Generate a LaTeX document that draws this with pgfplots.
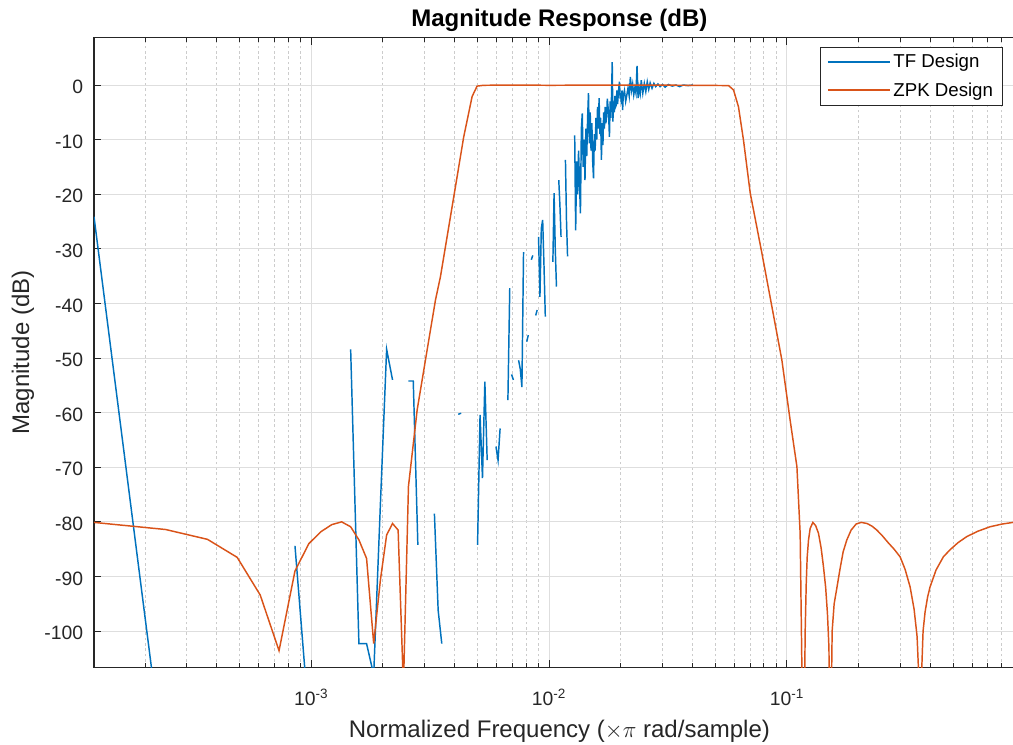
\documentclass[border=0pt]{standalone}
\usepackage{fontspec}
\setmainfont{Liberation Sans}
\usepackage{pgfplots}
\pgfplotsset{compat=1.18}
\definecolor{mblue}{rgb}{0,0.447,0.741}
\definecolor{morange}{rgb}{0.85,0.325,0.098}
\definecolor{axgray}{rgb}{0.15,0.15,0.15}
\definecolor{gridgray}{rgb}{0.87,0.87,0.87}
\definecolor{mgridgray}{rgb}{0.80,0.80,0.80}

\pgfplotstableread{
f dB
1.2207e-4 -24.1
2.4414e-4 -127
nan nan
8.5449e-4 -84.4
9.7656e-4 -116
nan nan
1.46484e-3 -48.4
1.58691e-3 -102.3
1.70898e-3 -102.3
1.83105e-3 -108
1.95313e-3 -77
2.07520e-3 -48.4
2.19727e-3 -54
nan nan
2.56348e-3 -54.2
2.68555e-3 -54.2
2.80762e-3 -84.2
nan nan
3.29590e-3 -78.5
3.41797e-3 -96.2
3.54004e-3 -102.3
nan nan
4.15039e-3 -60.3
4.27246e-3 -60.1
nan nan
5.00488e-3 -84.2
5.12695e-3 -60.4
5.24902e-3 -72.0
5.37109e-3 -54.3
5.49316e-3 -68.7
nan nan
5.98145e-3 -66.2
6.10352e-3 -68.7
6.22559e-3 -62.9
nan nan
6.71387e-3 -57.7
6.83594e-3 -37.2
nan nan
6.95801e-3 -53.0
7.08008e-3 -54.0
nan nan
7.44629e-3 -50.4
7.56836e-3 -52.0
7.69043e-3 -55.3
7.81250e-3 -30.6
nan nan
8.05664e-3 -47.0
8.17871e-3 -45.8
nan nan
8.42285e-3 -32.0
8.54492e-3 -31.2
nan nan
8.78906e-3 -42.2
8.91113e-3 -41.2
nan nan
9.03320e-3 -27.8
9.15527e-3 -38.8
9.27734e-3 -26.3
9.39941e-3 -24.7
9.52148e-3 -33.0
9.64355e-3 -42.4
nan nan
1.03760e-2 -32.4
1.04980e-2 -19.8
1.06201e-2 -30.0
1.07422e-2 -36.9
nan nan
1.09863e-2 -17.4
1.11084e-2 -22.0
1.12305e-2 -27.8
nan nan
1.17188e-2 -13.7
1.18408e-2 -25.0
1.19629e-2 -31.4
nan nan
1.28174e-2 -9.2
1.29395e-2 -26.6
1.30615e-2 -14
1.31836e-2 -20
1.33057e-2 -12
1.34277e-2 -18
1.35498e-2 -23.5
1.36719e-2 -8
1.37939e-2 -5.2
1.39160e-2 -15
1.40381e-2 -10
1.41602e-2 -17.4
1.42822e-2 -8
1.44043e-2 -13
1.45264e-2 -6
1.46484e-2 -1.5
1.47705e-2 -10.7
1.48926e-2 -5
1.50146e-2 -12
1.51367e-2 -7
1.52588e-2 -14
1.53809e-2 -17.1
1.55029e-2 -9
1.56250e-2 -12
1.57471e-2 -6
1.58691e-2 -10
1.59912e-2 -4
1.61133e-2 -8
1.62354e-2 -2.4
1.63574e-2 -9
1.64795e-2 -6
1.66016e-2 -13.7
1.67236e-2 -7
1.68457e-2 -11
1.69678e-2 -5
1.70898e-2 -8
1.72119e-2 -4
1.73340e-2 -7
1.74561e-2 -5.8
1.75781e-2 -2.5
1.77002e-2 -4
1.78223e-2 -6
1.79443e-2 -9.5
1.80664e-2 -3
1.81885e-2 -6
1.83105e-2 -2
1.84326e-2 4.2
1.85547e-2 -6.7
1.86768e-2 -3
1.87988e-2 -5
1.89209e-2 -2
1.90430e-2 -4
1.91650e-2 -3.7
1.92871e-2 -1
1.94092e-2 -3.5
1.95313e-2 -2
1.96533e-2 -0.5
1.97754e-2 0.6
1.98975e-2 -2.5
2.00195e-2 -1.5
2.01416e-2 -3.5
2.02637e-2 -1
2.03857e-2 -4.6
2.05078e-2 -2
2.07520e-2 -1
2.09961e-2 -3
2.12402e-2 -1.8
2.14844e-2 -0.5
2.17285e-2 -2
2.19727e-2 1.5
2.22168e-2 -1
2.24609e-2 0.2
2.27051e-2 -1.8
2.29492e-2 -0.5
2.31934e-2 -1.5
2.34375e-2 3.5
2.36816e-2 -2.4
2.39258e-2 -0.5
2.41699e-2 -1.6
2.44141e-2 0.9
2.47803e-2 -1.5
2.51465e-2 0.3
2.55127e-2 -1.2
2.58789e-2 0.6
2.62451e-2 -0.8
2.66113e-2 0.4
2.70996e-2 -0.6
2.75879e-2 0.3
2.80762e-2 -0.3
2.86865e-2 0.2
2.92969e-2 -0.3
3.00293e-2 0.1
3.07617e-2 -0.4
3.17383e-2 0.1
3.29590e-2 -0.2
3.41797e-2 0
3.54004e-2 -0.3
3.66211e-2 0
3.84521e-2 -0.1
4.02832e-2 0
}\tfdata

\pgfplotstableread{
f dB
1.2207e-4 -80.1
2.4414e-4 -81.4
3.6621e-4 -83.2
4.8828e-4 -86.5
6.1035e-4 -93.4
7.3242e-4 -103.6
8.5449e-4 -89
9.7656e-4 -84
1.0986e-3 -81.8
1.2207e-3 -80.5
1.3428e-3 -80.0
1.4648e-3 -80.9
1.5869e-3 -83.3
1.7090e-3 -86.7
1.8311e-3 -102.3
1.9531e-3 -90.7
2.0752e-3 -82.4
2.1973e-3 -80.3
2.3193e-3 -81.5
2.4414e-3 -110.3
2.5635e-3 -73.5
2.789e-3 -59.5
3.072e-3 -48.5
3.329e-3 -39.4
3.494e-3 -35.1
3.974e-3 -20.5
4.377e-3 -9.5
4.748e-3 -2.1
4.982e-3 -0.2
5.3e-3 -0.05
7.0e-3 0
1.0e-2 -0.05
2.0e-2 0
4.0e-2 -0.05
5.684e-2 -0.1
5.965e-2 -0.9
6.259e-2 -4
6.570e-2 -10.1
7.013e-2 -19.8
7.852e-2 -30.8
8.650e-2 -40.6
9.528e-2 -50.4
0.1032 -61.4
0.1102 -69.9
0.1137 -82.1
0.1175 -130
0.11937 -100
0.1206 -91.3
0.12170 -86.5
0.1233 -83.3
0.12529 -81.2
0.1286 -80.1
0.13214 -80.7
0.1358 -82.1
0.13933 -84.8
0.1425 -88.2
0.14555 -92
0.1481 -96.8
0.15027 -103
0.1520 -130
0.15500 -100
0.15803 -95
0.16268 -91.8
0.16747 -88.5
0.17240 -85.5
0.17868 -83.3
0.18627 -81.5
0.19548 -80.4
0.20520 -80.1
0.21745 -80.3
0.22821 -80.8
0.23883 -81.5
0.25143 -82.5
0.26645 -83.8
0.28236 -85.0
0.29923 -86.4
0.31410 -88.7
0.32966 -91.9
0.34267 -96
0.35276 -101
0.35722 -106.6
0.3633 -125
0.3693 -106.6
0.37383 -100
0.38114 -96.5
0.39047 -93.8
0.4000 -91.9
0.42393 -88.8
0.4550 -86.4
0.48555 -85.1
0.52450 -83.8
0.5706 -82.7
0.63653 -81.7
0.7146 -80.9
0.80297 -80.4
0.8929 -80.1
1.0 -80.0
}\zpkdata

\begin{document}
\begin{tikzpicture}
\begin{axis}[
  name=ax,
  scale only axis,
  width=698pt, height=472pt,
  xmode=log,
  xmin=1.2207e-4, xmax=1,
  ymin=-106.6, ymax=8.66,
  xtick={1e-3,1e-2,1e-1},
  xticklabels={10\textsuperscript{-3},10\textsuperscript{-2},10\textsuperscript{-1}},
  minor xtick={2e-4,3e-4,4e-4,5e-4,6e-4,7e-4,8e-4,9e-4,2e-3,3e-3,4e-3,5e-3,6e-3,7e-3,8e-3,9e-3,2e-2,3e-2,4e-2,5e-2,6e-2,7e-2,8e-2,9e-2,0.2,0.3,0.4,0.5,0.6,0.7,0.8,0.9},
  ytick={-100,-90,-80,-70,-60,-50,-40,-30,-20,-10,0},
  yticklabels={-100,-90,-80,-70,-60,-50,-40,-30,-20,-10,0},
  xtick pos=both, ytick pos=both,
  xticklabel pos=lower, yticklabel pos=left,
  tick align=inside,
  major tick length=5.5pt, minor tick length=3pt,
  every tick/.style={axgray, line width=0.6pt},
  xmajorgrids, xminorgrids, ymajorgrids,
  major grid style={gridgray, line width=0.6pt},
  minor grid style={mgridgray, line width=0.6pt, dash pattern=on 2pt off 2pt},
  axis line style={axgray, line width=0.8pt},
  tick label style={font=\fontsize{14.5}{17}\selectfont, text=axgray},
  xticklabel style={anchor=base, yshift=-28.5pt},
  yticklabel style={anchor=east, inner sep=0pt, xshift=-8pt, yshift=-1.5pt},
  every axis title/.style={at={(axis description cs:0.5,1.0186)}, anchor=base, font=\fontsize{18}{21}\selectfont\bfseries, text=black},
  every axis x label/.style={at={(axis description cs:0.5,-0.1112)}, anchor=base, font=\fontsize{18}{21}\selectfont, text=axgray},
  every axis y label/.style={at={(axis description cs:-0.0698,0.5)}, anchor=base, rotate=90, font=\fontsize{18}{21}\selectfont, text=axgray},
  title={Magnitude Response (dB)},
  xlabel={Normalized Frequency  ($\times\pi$ rad/sample)},
  ylabel={Magnitude (dB)},
  legend style={at={(axis description cs:0.9764,0.9847)}, anchor=north east,
    draw=axgray, line width=0.6pt, fill=white,
    font=\fontsize{14}{16}\selectfont, text=black,
    inner xsep=5pt, inner ysep=3pt, row sep=5.6pt},
  legend cell align=left,
  unbounded coords=jump,
]
\addplot[mblue, line width=1.1pt, legend image code/.code={\draw[mblue, line width=1.3pt] (5pt,0pt) -- (51.5pt,0pt);}] table[x=f, y=dB] {\tfdata};
\addlegendentry{TF Design}
\addplot[morange, line width=1.1pt, legend image code/.code={\draw[morange, line width=1.3pt] (5pt,0.4pt) -- (51.5pt,0.4pt);}] table[x=f, y=dB] {\zpkdata};
\addlegendentry{ZPK Design}
\end{axis}
\pgfresetboundingbox
\useasboundingbox ([xshift=-70.5pt, yshift=-57.75pt]ax.south west) rectangle ([xshift=-8.8pt, yshift=28.3pt]ax.north east);
\end{tikzpicture}
\end{document}
